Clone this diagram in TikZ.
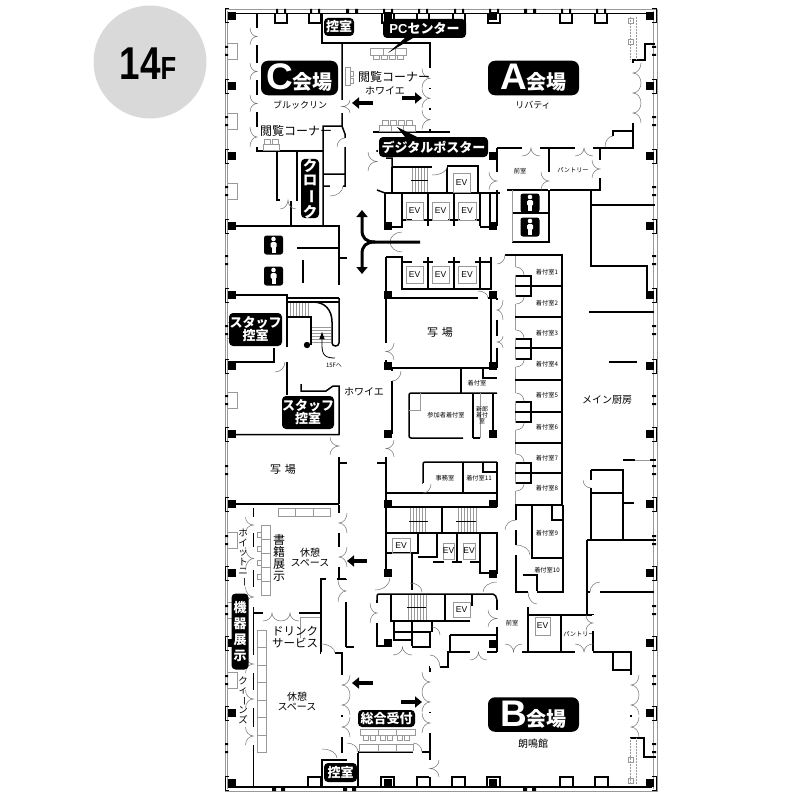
\documentclass[tikz,border=0pt]{standalone}
\usepackage{fontspec}
\setmainfont{Noto Sans CJK JP}
\newfontfamily\latinface{Liberation Sans}
\newcommand{\fsz}[1]{\fontsize{#1}{#1}\selectfont}
\newcommand{\vbar}{\rotatebox[origin=c]{-90}{ー}}
\tikzset{
  wall/.style={line width=1.5pt,black},
  doorline/.style={line width=.5pt,black!55},
  thinline/.style={line width=.5pt,black!40},
  roomtext/.style={inner sep=0pt,align=center,font=\fsz{10}},
  tinytext/.style={inner sep=0pt,align=center,font=\fsz{6.2}},
  evtext/.style={inner sep=0pt,font=\latinface\fsz{8.5}},
  tag/.style={fill=black,text=white,rounded corners=4pt,inner sep=0pt,align=center,font=\bfseries\fsz{13}},
  hall/.style={fill=black,text=white,rounded corners=7pt,inner sep=0pt,minimum height=34.5pt,minimum width=91pt,font=\bfseries},
  pillar/.style={fill=black},
  move/.style={line width=4pt,black,-{Triangle[length=7pt,width=11pt]}},
}
\usetikzlibrary{arrows.meta}
\newcommand{\vdoors}[4]{%
  \draw[white,line width=2.6pt,shift={(#1,#2)},yscale=#4] (0,0)--(0,2);
  \draw[doorline,shift={(#1,#2)},xscale=#3,yscale=#4] (1,0) .. controls (1,.55) and (.55,1) .. (0,1) .. controls (.55,1) and (1,1.45) .. (1,2);}
\newcommand{\hdoors}[4]{%
  \draw[white,line width=2.6pt,shift={(#1,#2)},xscale=#3] (0,0)--(2,0);
  \draw[doorline,shift={(#1,#2)},xscale=#3,yscale=#4] (0,1) .. controls (.55,1) and (1,.55) .. (1,0) .. controls (1,.55) and (1.45,1) .. (2,1);}
\newcommand{\vone}[4]{%
  \draw[white,line width=2.6pt,shift={(#1,#2)},yscale=#4] (0,0)--(0,1);
  \draw[doorline,shift={(#1,#2)},xscale=#3,yscale=#4] (1,0) .. controls (1,.55) and (.55,1) .. (0,1);}
\newcommand{\hone}[4]{%
  \draw[white,line width=2.6pt,shift={(#1,#2)},xscale=#3] (0,0)--(1,0);
  \draw[doorline,shift={(#1,#2)},xscale=#3,yscale=#4] (0,1) .. controls (.55,1) and (1,.55) .. (1,0);}
\newcommand{\wcicon}[3]{%
  \node[fill=black,rounded corners=2.5pt,minimum size=19pt,inner sep=0pt] (#1) at (#2,#3) {};
  \fill[white] (#2,#3-6) circle (2.3pt);
  \fill[white,rounded corners=1.5pt] (#2-3,#3-3) rectangle (#2+3,#3+3);
  \fill[white] (#2-2,#3+2) rectangle (#2+2,#3+8);}
\begin{document}
\begin{tikzpicture}[x=1pt,y=-1pt]
\useasboundingbox (0,0) rectangle (800,800);
\fill[black!15] (150,62) circle (56.5pt);
\node[inner sep=0pt,font=\latinface\bfseries] (floor) at (148,63.5) {\scalebox{.8}[1]{\fsz{46}14\fsz{32}F}};

% frame
\draw[thinline,line width=.8pt] (225,9)--(657,9)--(657,791)--(225,791)--cycle;
\draw[thinline] (227.5,11) -- (227.5,789) (653.5,11) -- (653.5,789);
\foreach \y in {51,121,191,330,400,540,610,680}{
  \draw[thinline] (227,\y-8) rectangle (237,\y+8);
}
\foreach \y in {51,121,191,260,330,400,470,540,610,680,748}{
  \fill[black] (225,\y-5) rectangle (228,\y-3) (225,\y+3) rectangle (228,\y+5);
  \fill[black] (652,\y-5) rectangle (656,\y-3) (652,\y+3) rectangle (656,\y+5);
}
\foreach \y in {16,86,156,226,295,366,434,504,573,643,713,783}{
  \fill[pillar] (228,\y-4) rectangle (236,\y+4);
  \draw[wall,line width=1pt] (229,\y-7)--(225.5,\y-7)--(225.5,\y+7)--(229,\y+7);
  \fill[pillar] (646,\y-4) rectangle (654,\y+4);
  \draw[wall,line width=1pt] (652,\y-7)--(656,\y-7)--(656,\y+7)--(652,\y+7);
}
\foreach \x/\y in {388/16,388/226,388/295,388/366,388/434,388/504,388/573,388/643,388/783,
  493/16,493/156,493/226,493/295,493/366,493/434,493/504,493/574,493/644,493/783}{
  \fill[pillar] (\x-4,\y-4) rectangle (\x+4,\y+4);
}

% outer wall and bays
\draw[wall] (228,13.5)--(652,13.5) (228,787)--(652,787);
\foreach \x in {275,309,382,417,453,488,560,595}{
  \draw[wall] (\x,13.5)--(\x,23)--(\x+12,23)--(\x+12,13.5);
  \fill[black] (\x+1,9) rectangle (\x+3,13) (\x+9,9) rectangle (\x+11,13);
}
\foreach \x in {345,523}{
  \fill[black] (\x+1,9) rectangle (\x+4,13) (\x+10,9) rectangle (\x+13,13);
}
\foreach \x in {308,381,417,452,487,560,595}{
  \draw[wall] (\x,787)--(\x,777)--(\x+13,777)--(\x+13,787);
}
\foreach \x in {272,343,523}{
  \fill[black] (\x,788) rectangle (\x+4,791) (\x+9,788) rectangle (\x+13,791);
}

% north side
\draw[wall] (257,13.5)--(257,151)--(323,151);
\draw[wall] (322,13.5)--(322,43)--(430,43)--(430,132)--(450,132);
\draw[wall] (342,43)--(342,126)--(323,126)--(323,225) (342,126)--(345,134)--(345,186)--(323,186) (323,174)--(345,174);
\draw[wall] (277,151)--(277,200)--(297,200)--(297,151) (291,200)--(291,226);
\draw[wall] (373,132)--(430,132);
\draw[wall] (497,148)--(633,148)--(633,60)--(645,60)--(645,44)--(655,44);
\draw[wall] (633,131)--(613,131)--(613,148);
\draw[wall] (497,148)--(497,226) (549,148)--(549,242)--(512,242) (600,148)--(600,190)--(507,190);
\draw[wall] (512,213)--(549,213) (591,190)--(591,266)--(647,266)--(647,295) (591,205)--(655,205);
\draw[thinline] (512,190)--(512,242);
\draw[wall] (385,193)--(500,193) (385,193)--(385,227)--(402,227)--(402,193);
\draw[wall] (392,167)--(392,193) (392,167)--(447,167)--(447,193) (447,166)--(478,166)--(478,193);
\foreach \x in {428,454,480}{\draw[wall] (\x,193)--(\x,226);}
\draw[wall] (402,220)--(412,220) (423,220)--(433,220) (448,220)--(460,220) (475,220)--(480,220);
\draw[wall] (480,227)--(490,227)--(490,193);
\draw[wall] (377,150)--(377,152) (377,190)--(385,193) (386,158)--(392,158)--(392,167);
\draw[wall] (402,242)--(420,242);

% core, lower half of the north block
\draw[wall] (386,257)--(402,257)--(402,289)--(491,289)--(491,257);
\foreach \x in {428,454,480}{\draw[wall] (\x,257)--(\x,289);}
\draw[wall] (402,262)--(412,262) (423,262)--(433,262) (448,262)--(460,262) (475,262)--(491,262);
\draw[wall] (386,257)--(386,362);
\draw[wall] (386,298)--(491,298)--(491,368)--(386,368);
\draw[wall] (497,298)--(497,368);
\draw[wall] (392,368)--(392,434) (386,440)--(386,505) (377,463)--(386,463);
\draw[wall] (461,368)--(461,393) (483,368)--(483,378)--(497,378);
\draw[wall,rounded corners=2pt] (463,438)--(409,438)--(409,393)--(497,393);
\draw[wall] (473,393)--(473,438) (473,438)--(480,438) (493,393)--(493,434);
\draw[thinline] (409,410)--(420,410)--(420,393) (480,393)--(480,438);
\draw[wall,rounded corners=2pt] (423,484)--(423,462)--(497,462);
\draw[wall] (463,462)--(463,493) (483,462)--(483,472)--(496,472) (497,462)--(497,507) (386,493)--(497,493) (386,507)--(497,507);

% fitting rooms
\draw[thinline] (515,255)--(515,505);
\draw[wall] (505,255)--(562,255)--(562,505);
\foreach \y in {286,317,348,380,412,443,473,505}{\draw[wall] (515,\y)--(562,\y);}
\foreach \y in {276,339,402,463}{
  \draw[wall] (516,\y)--(531,\y)--(531,\y+20)--(516,\y+20);
  \vone{516}{\y-1}{8}{-8}
  \vone{516}{\y+21}{8}{7}
}
\draw[wall] (516,505)--(516,592)--(563,592)--(563,505) (532,505)--(532,558)--(563,558) (552,505)--(552,520)--(563,520);
\draw[wall] (523,575)--(537,575)--(537,592);

% kitchen
\draw[wall] (589,312)--(654,312) (609,362)--(637,362);
\draw[wall] (591,470)--(623,470)--(623,540) (591,470)--(591,540) (591,493)--(623,493) (623,460)--(635,460) (650,460)--(656,460) (623,503)--(634,503);
\draw[thinline] (635,460)--(650,460);
\draw[wall] (587,540)--(656,540) (587,540)--(587,615) (587,592)--(654,592);
\draw[wall] (528,607)--(528,652) (528,615)--(593,615)--(593,652) (561,615)--(561,652);

% south side
\draw[wall] (522,652)--(631,652)--(631,670)--(613,670)--(613,652);
\draw[wall] (631,670)--(631,738)--(644,738)--(644,757)--(656,757);
\draw[wall] (450,652)--(497,652) (450,635)--(497,635) (450,635)--(450,652) (497,635)--(497,652) (497,600)--(497,635);
\draw[wall] (386,507)--(386,573) (377,578)--(386,578);
\draw[wall] (386,533)--(497,533)--(497,574) (480,533)--(480,573)--(493,573) (386,553)--(418,553)--(418,533);
\draw[wall] (418,557)--(437,557)--(437,533) (442,507)--(442,533) (457,533)--(457,562) (412,553)--(412,590);
\draw[wall] (433,562)--(444,562) (452,562)--(462,562) (470,562)--(480,562);
\draw[wall,rounded corners=2pt] (377,600)--(377,594)--(495,594)--(497,600);
\draw[wall] (377,600)--(377,646)--(388,646) (391,594)--(391,621)--(445,621)--(445,594) (445,621)--(470,621) (472,594)--(472,606);
\draw[wall] (394,621)--(394,640)--(412,640) (412,621)--(412,647)--(430,647)--(430,632)--(394,632) (432,621)--(432,632);
\draw[wall] (450,652)--(448,652)--(448,667)--(430,667)--(430,770) (430,752)--(358,752)--(358,787);
\draw[wall] (322,787)--(322,760)--(347,760) (342,753)--(342,653)--(321,653)--(321,579)--(326,579) (346,579)--(346,647) (346,647)--(354,647) (337,579)--(346,579);
\draw[wall] (253.5,508)--(253.5,787) (253.5,613)--(321,613);
\draw[thinline] (300,638)--(300,617)--(320,617);
\draw[wall] (339,505)--(339,558) (339,565)--(339,578);

% west side
\draw[wall] (228,226)--(339,226)--(339,285) (339,258)--(347,258) (297,248)--(339,248) (303,260)--(303,283);
\draw[wall] (228,295)--(287,295)--(287,347) (287,362)--(287,395) (228,362)--(274,362)--(274,348);
\draw[wall] (287,298)--(339,298) (287,302)--(339,302) (287,317)--(311,317)--(311,345);
\draw[wall] (313,302) .. controls (325,302) and (332,310) .. (332,322) -- (332,343) .. controls (332,347) and (339,347) .. (339,343) -- (339,298);
\fill[black] (307,345) circle (3.2pt);
\foreach \x in {290,293,...,310}{\draw[thinline] (\x,303)--(\x,316);}
\foreach \y in {327,330,...,343}{\draw[thinline] (312,\y)--(331,\y);}
\draw[line width=.8pt,-{Triangle[length=7pt,width=5pt]}] (335,358) .. controls (325,358) and (322,355) .. (322,345) -- (322,332);
\draw[wall] (301,384)--(301,391)--(326,391)--(333,386)--(339,386)--(339,435) (228,434.5)--(339,434.5);
\draw[wall] (339,457)--(339,504) (339,463)--(347,463) (228,504)--(339,504);

% stairs and lifts
\foreach \x in {412,415,...,427}{\draw[thinline] (\x,168)--(\x,192);}
\draw[wall,line width=.9pt] (411,180)--(428,180);
\foreach \x in {410,413,...,427}{\draw[thinline] (\x,508)--(\x,532);}
\foreach \x in {458,461,...,476}{\draw[thinline] (\x,508)--(\x,532);}
\draw[wall,line width=.9pt] (409,521)--(428,521) (456,521)--(476,521);
\foreach \x in {408,411,...,426}{\draw[thinline] (\x,595)--(\x,620);}
\draw[wall,line width=.9pt] (407,607)--(426,607);
\foreach \x/\y/\w/\h/\n in {453/173/17/19/a,406/202/17/18/b,432/202/17/18/c,458/202/18/18/d,406/266/17/17/e,432/266/17/17/f,458/266/18/17/g,392/538/18/15/h,443/543/11/16/i,463/543/12/16/j,453/602/17/15/k,535/617/15/18/l}{
  \draw[thinline] (\x,\y) rectangle (\x+\w,\y+\h);
  \node[evtext] (ev\n) at (\x+\w/2,\y+\h/2) {EV};
}

% furniture
\draw[thinline] (370,48) rectangle (406,55) (383,48)--(383,55) (395,48)--(395,55);
\foreach \x in {373,381,389,397}{\draw[thinline] (\x,55) rectangle (\x+6,59);}
\draw[thinline] (379,125) rectangle (415,131) (391,125)--(391,131) (403,125)--(403,131);
\foreach \x in {382,390,398,406}{\draw[thinline] (\x,120) rectangle (\x+6,125);}
\draw[thinline] (345,67) rectangle (350,85) (350,71) rectangle (353,76) (350,78) rectangle (353,83);
\draw[thinline] (263,144) rectangle (279,150) (264,139) rectangle (270,144) (272,139) rectangle (278,144);
\draw[thinline] (278,508) rectangle (330,516) (295,508)--(295,516) (313,508)--(313,516);
\foreach \y in {525,539,553,567,581}{\draw[thinline] (261,\y) rectangle (270,\y+14);}
\foreach \y in {532,546,560,574}{\draw[thinline] (257,\y) rectangle (261,\y+5);}
\foreach \y in {630,647.5,665,682.5,700,717.5,735}{\draw[thinline] (257,\y) rectangle (266,\y+17.5);}
\draw[thinline] (360,729) rectangle (415,735) (378,729)--(378,735) (396,729)--(396,735);
\foreach \x in {363,370,380,387,397,404}{\draw[thinline] (\x,735) rectangle (\x+5,740);}
\draw[thinline] (359,744) rectangle (413,751) (378,744)--(378,751) (396,744)--(396,751);
\draw[thinline,densely dotted] (630,17)--(630,60) (636,17)--(636,60) (630,738)--(630,784) (636,738)--(636,784);
\draw[thinline] (628,18) rectangle (633,23) (628,39) rectangle (633,44) (628,757) rectangle (633,762) (628,778) rectangle (633,783);

% doors
\foreach \y/\b in {28/8.5,63/8.5,95/8.5,127/10}{\vdoors{257}{\y}{-7}{\b}}
\vdoors{342}{100}{8}{6.5}
\foreach \y in {68.5,88.5,110}{\vdoors{430}{\y}{-8}{9.7}}
\foreach \y in {63,83,103}{\vdoors{633}{\y}{8}{10}}
\hdoors{522}{148}{9}{8}
\hdoors{575}{148}{9}{8}
\vdoors{497}{172}{-8}{9}
\vdoors{549}{172}{-8}{9}
\vdoors{600}{160}{-8}{9}
\vone{613}{147}{-8}{-11}
\vdoors{377}{152}{-9}{9.5}
\hone{432}{167}{15}{8}
\vone{345}{147}{-8}{-9}
\hone{330}{186}{13}{10}
\hdoors{280}{200}{8}{9}
\hone{402}{242}{-12}{-10}
\hone{402}{242}{-12}{10}
\vdoors{386}{343}{8}{8.5}
\vone{392}{371}{9}{10}
\hone{275}{362}{10}{10}
\vdoors{386}{440}{8}{8.5}
\vdoors{339}{437}{-9}{9}
\vdoors{497}{300}{6}{10}
\vdoors{497}{336}{6}{6}
\hone{478}{298}{10}{-7}
\hone{497}{255}{8}{9}
\hone{423}{484}{8}{9}
\vdoors{339}{513}{8}{10}
\vdoors{339}{547}{8}{10}
\foreach \y/\b in {517/8,547/11.5,587/10,655/9,690/9,727/9}{\vdoors{253.5}{\y}{-8}{\b}}
\vdoors{346}{580}{-8}{11}
\hdoors{263}{613}{9}{8}
\hdoors{281}{613}{9}{8}
\hone{321}{653}{14}{-9}
\hone{322}{758}{15}{-9}
\hone{347}{752}{11}{-9}
\hone{413}{752}{9}{-9}
\foreach \y in {675,695,717}{\vdoors{342}{\y}{8}{10}}
\foreach \y in {672,692,713}{\vdoors{430}{\y}{-8}{10}}
\foreach \y in {675,695,717}{\vdoors{631}{\y}{8}{10}}
\vdoors{430}{760}{9}{8.5}
\hdoors{470}{652}{8.5}{8}
\hdoors{505}{652}{8.5}{-8}
\hdoors{575}{652}{9}{-8}
\vdoors{593}{615}{-7}{8}
\vdoors{497}{610}{-9}{8.5}
\vone{516}{530}{-11}{-10}
\vone{516}{555}{14}{-10}
\hone{537}{592}{-9}{12}
\hone{497}{592}{-14}{-10}
\hone{600}{592}{-10}{-10}
\vone{591}{480}{-8}{8}
\hone{410}{592}{12}{-9}
\hone{375}{578}{15}{12}
\vdoors{377}{603}{-7}{10}
\hdoors{393}{647}{9.5}{8}
\hone{432}{635}{8}{-8}
\hone{430}{667}{10}{-12}

% labels
\node[roomtext,font=\fsz{9}] (brooklyn) at (300,105) {ブルックリン};
\node[roomtext,font=\fsz{12}] (readC) at (296,131) {閲覧コーナー};
\node[roomtext,font=\fsz{12}] (readfoyer) at (394,77) {閲覧コーナー};
\node[roomtext] (foyerN) at (385,91) {ホワイエ};
\node[roomtext,font=\fsz{9}] (liberty) at (533,105) {リバティ};
\node[tinytext] (maeA) at (520,171) {前室};
\node[tinytext] (pantryA) at (573,170) {パントリー};
\node[roomtext,font=\fsz{11}] (photoE) at (440,332) {写\,\,場};
\node[roomtext,font=\fsz{11}] (photoW) at (283,469) {写\,\,場};
\node[roomtext] (foyerS) at (364,392) {ホワイエ};
\node[roomtext,font=\fsz{6}] (up) at (334,365) {15Fへ};
\node[tinytext] (fit) at (477,383) {着付室};
\node[tinytext] (guest) at (446,415) {参加者着付室};
\node[tinytext,font=\fsz{6}] (groom) at (482,415) {新郎\\着付\\室};
\node[tinytext] (office) at (445,478) {事務室};
\node[tinytext] (fit11) at (479,478) {着付室11};
\foreach \n/\y in {1/272,2/303,3/333,4/364,5/395,6/427,7/458,8/488,9/533,10/570}{
  \node[tinytext] (fit\n) at (547,\y) {着付室\n};
}
\node[roomtext] (kitchen) at (607,400) {メイン厨房};
\node[roomtext] (restN) at (310,557) {休憩\\スペース};
\node[roomtext] (restS) at (297,701) {休憩\\スペース};
\node[roomtext,font=\fsz{12}] (books) at (279,558) {書\\籍\\展\\示};
\node[roomtext,font=\fsz{9.5}] (whitney) at (243,558) {ホ\\イ\\ッ\\ト\\ニ\\\vbar};
\node[roomtext,font=\fsz{9.5}] (queens) at (243,700) {ク\\ィ\\\vbar\\ン\\ズ};
\node[roomtext,font=\fsz{11.5}] (drink) at (295,637) {ドリンク\\サービス};
\node[tinytext] (maeB) at (512,623) {前室};
\node[tinytext] (pantryB) at (579,634) {パントリー};
\node[roomtext] (roumei) at (533,744) {朗鳴館};

\node[hall,minimum width=77pt] (roomC) at (299.5,78) {\latinface\fsz{37}C\normalfont\bfseries\fsz{20}会場};
\node[hall] (roomA) at (533.5,78) {\latinface\fsz{37}A\normalfont\bfseries\fsz{20}会場};
\node[hall] (roomB) at (533.5,714.5) {\latinface\fsz{37}B\normalfont\bfseries\fsz{20}会場};

\fill[black] (388,53)--(405,38)--(413,38)--cycle (397,127)--(405,137)--(417,137)--cycle;
\node[tag,minimum width=83pt,minimum height=19pt] (pctag) at (424.5,28.5) {\latinface\bfseries PC\normalfont\bfseries センター};
\node[tag,minimum width=109pt,minimum height=20pt] (postertag) at (433.5,147) {デジタルポスター};
\node[tag,minimum width=30pt,minimum height=18pt] (staffN) at (339,27) {控室};
\node[tag,minimum width=33pt,minimum height=19pt] (staffS) at (340.5,772.5) {控室};
\node[tag,minimum width=18pt,minimum height=59pt,font=\bfseries\fsz{14.5}] (cloak) at (310,188.5) {ク\\ロ\\\vbar\\ク};
\node[tag,minimum width=53pt,minimum height=33pt,font=\bfseries\fsz{13}] (staffA) at (255.5,329.5) {スタッフ\\控室};
\node[tag,minimum width=52pt,minimum height=33pt,font=\bfseries\fsz{13}] (staffB) at (308,412.5) {スタッフ\\控室};
\node[tag,minimum width=17pt,minimum height=76pt,font=\bfseries\fsz{13}] (show) at (240,631.5) {機\\[3pt]器\\[3pt]展\\[3pt]示};
\node[tag,minimum width=57pt,minimum height=17pt] (desk) at (386.5,718.5) {総合受付};
\wcicon{wcA}{530}{203}
\wcicon{wcB}{530}{227}
\wcicon{wcC}{273.5}{245}
\wcicon{wcD}{273.5}{276}

% arrows
\coordinate (a1) at (373,103);\coordinate (a2) at (352,103);
\coordinate (a3) at (402,98);\coordinate (a4) at (422,98);
\coordinate (a5) at (367,561);\coordinate (a6) at (347,561);
\coordinate (a7) at (373,683);\coordinate (a8) at (352,683);
\coordinate (a9) at (401,702);\coordinate (a10) at (422,702);
\draw[move] (a1)--(a2);
\draw[move] (a3)--(a4);
\draw[move] (a5)--(a6);
\draw[move] (a7)--(a8);
\draw[move] (a9)--(a10);
\coordinate (hub) at (420,242);
\coordinate (topend) at (362,210);
\coordinate (lowend) at (362,274);
\draw[move,line width=3pt] (hub)--(375,242) .. controls (366,242) and (362,238) .. (362,230)--(topend);
\draw[move,line width=3pt] (375,242) .. controls (366,242) and (362,246) .. (362,254)--(lowend);
\end{tikzpicture}
\end{document}
